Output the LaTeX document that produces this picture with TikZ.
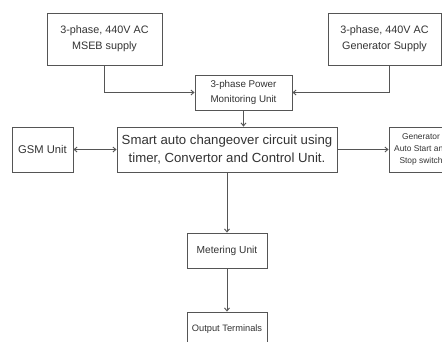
\documentclass[tikz,border=0pt]{standalone}
\usepackage{fontspec}
\setmainfont{Liberation Sans}
\usetikzlibrary{arrows.meta}
\definecolor{ln}{HTML}{555555}
\definecolor{tx}{HTML}{333333}
\tikzset{
  box/.style={draw=ln, line width=0.9pt, rectangle, align=center, text=tx, inner sep=1pt},
  conn/.style={draw=ln, line width=0.9pt, -{Straight Barb[length=3pt,width=5pt]}},
  biconn/.style={draw=ln, line width=0.9pt, {Straight Barb[length=3pt,width=5pt]}-{Straight Barb[length=3pt,width=5pt]}}
}
\begin{document}
\begin{tikzpicture}[x=1pt,y=-1pt]
\useasboundingbox (0,0) rectangle (442,341);
\clip (0,0) rectangle (442,341);
\fill[white] (0,0) rectangle (442,341);
\node[box, minimum width=115pt, minimum height=52pt, font=\fontsize{10.8}{16}\selectfont] (mseb) at (104.5,39) {3-phase, 440V AC\\MSEB supply};
\node[box, minimum width=113pt, minimum height=52pt, font=\fontsize{10.8}{16}\selectfont] (gen) at (384.5,39) {3-phase, 440V AC\\Generator Supply};
\node[box, minimum width=97pt, minimum height=35pt, font=\fontsize{9.8}{15}\selectfont] (mon) at (243.5,92.5) {3-phase Power\\Monitoring Unit};
\node[box, minimum width=220pt, minimum height=45pt, font=\fontsize{13.2}{18}\selectfont] (main) at (227,149.5) {Smart auto changeover circuit using\\timer, Convertor and Control Unit.};
\node[box, minimum width=61pt, minimum height=45pt, font=\fontsize{11.2}{14}\selectfont] (gsm) at (42.5,149.5) {GSM Unit};
\node[box, minimum width=64pt, minimum height=45pt, font=\fontsize{8.4}{12}\selectfont] (auto) at (421,149.5) {Generator\\Auto Start and\\Stop switch};
\node[box, minimum width=80pt, minimum height=35pt, font=\fontsize{10.2}{13}\selectfont] (meter) at (227,250.5) {Metering Unit};
\node[box, minimum width=80pt, minimum height=34pt, font=\fontsize{9.3}{12}\selectfont] (out) at (227,329) {Output Terminals};
\draw[conn] (mseb.south) |- (mon.west);
\draw[conn] ([xshift=4.5pt]gen.south) |- (mon.east);
\draw[conn] (mon.south) -- (mon.south |- main.north);
\draw[biconn] (gsm.east) -- (main.west);
\draw[conn] (main.east) -- (auto.west);
\draw[conn] (main.south) -- (meter.north);
\draw[conn] (meter.south) -- (out.north);
\end{tikzpicture}
\end{document}
